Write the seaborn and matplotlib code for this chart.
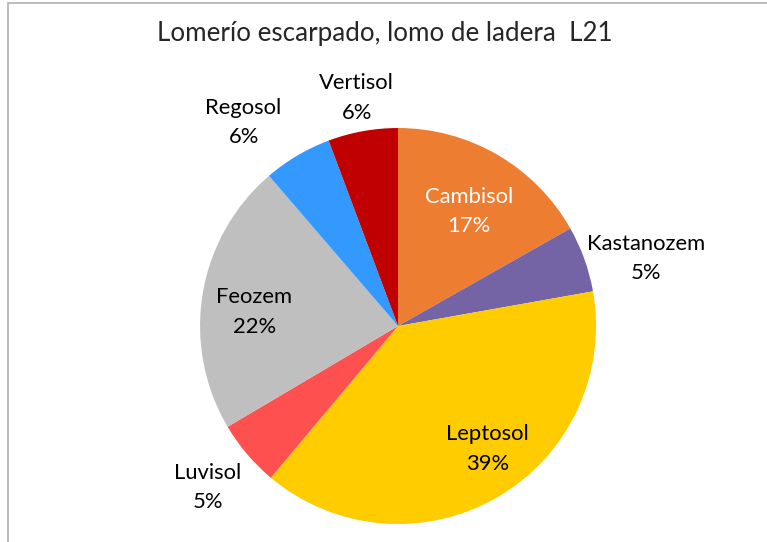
import numpy as np
import matplotlib
matplotlib.use('Agg')
import matplotlib.pyplot as plt
import seaborn as sns

sns.set_theme(style="white")
plt.rcParams['font.family'] = ['Lato', 'DejaVu Sans']

# ── data ───────────────────────────────────────────────────────────
suelos = ['Cambisol', 'Kastanozem', 'Leptosol', 'Luvisol', 'Feozem', 'Regosol', 'Vertisol']
porcentaje = [16.8, 5.4, 38.9, 5.4, 22.2, 5.6, 5.7]

colores = ['#ED7D31', '#7463A5', '#FFCC00', '#FF5050', '#BFBFBF', '#3399FF', '#C00000']
# label placement: radial distance and angle shift (deg) from wedge middle
label_dist = [0.68, 1.30, 0.77, 1.26, 0.73, 1.29, 1.17]
label_shift = [-1.6, -4.6, 6.0, 0.0, 3.7, 6.6, 0.0]
label_color = ['white', 'black', 'black', 'black', 'black', 'black', 'black']

# ── figure ─────────────────────────────────────────────────────────
fig = plt.figure(figsize=(7.67, 5.42), dpi=100)
fig.patch.set_facecolor('white')

# frame of the original chart area (cut at right/bottom)
fig.add_artist(plt.Rectangle((8 / 767, -0.1), 1.2, 1 - 3 / 542 + 0.1,
                             transform=fig.transFigure, fill=False,
                             edgecolor='#B0B0B0', linewidth=1.2))

ax = fig.add_axes([0.2608, 0.0332, 0.5163, 0.7306])
wedges, _ = ax.pie(porcentaje, colors=colores, startangle=90, counterclock=False,
                   radius=1, wedgeprops=dict(linewidth=0))
ax.set_xlim(-1, 1)
ax.set_ylim(-1, 1)
ax.set_aspect('equal')
ax.axis('off')

for w, name, val, d, s, c in zip(wedges, suelos, porcentaje, label_dist,
                                 label_shift, label_color):
    ang = np.deg2rad((w.theta1 + w.theta2) / 2 + s)
    ax.text(d * np.cos(ang), d * np.sin(ang), f'{name}\n{val:.0f}%',
            ha='center', va='center', fontsize=15.8, color=c,
            linespacing=1.6, clip_on=False)

fig.text(385 / 767, 1 - 33 / 542, 'Lomerío escarpado, lomo de ladera  L21',
         ha='center', va='center', fontsize=18.7)

fig.savefig('out.png', dpi=100)
